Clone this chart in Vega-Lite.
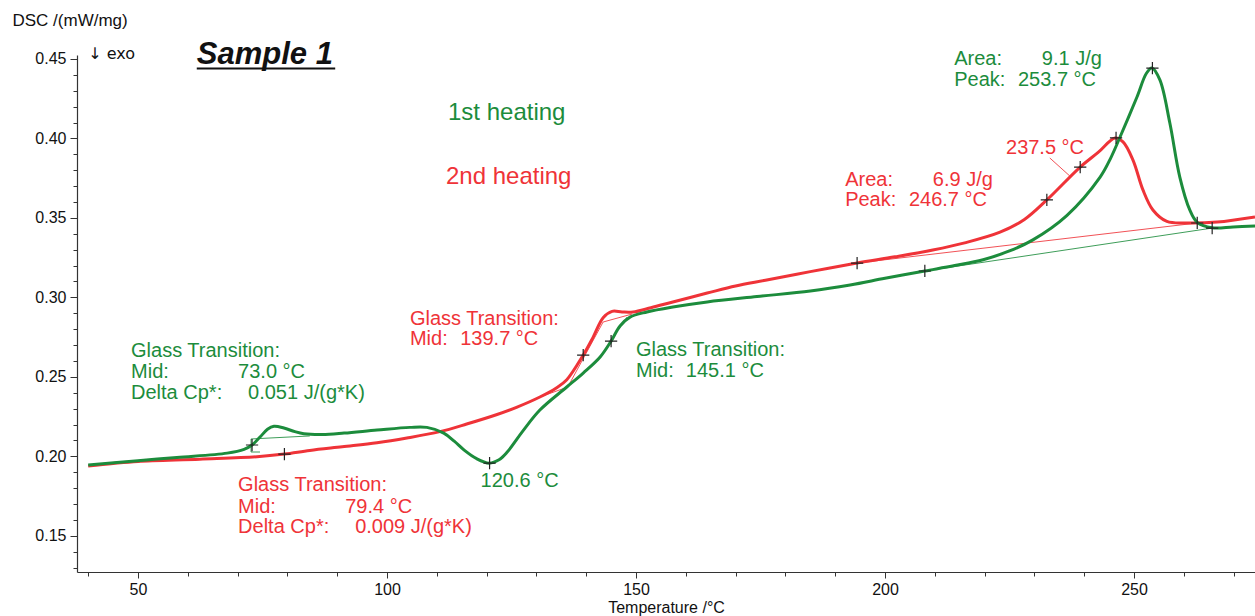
{
  "$schema": "https://vega.github.io/schema/vega-lite/v6.json",
  "autosize": {"type": "none"},
  "padding": {"left": 77, "top": 55, "right": 0, "bottom": 44},
  "width": 1178,
  "height": 517,
  "background": "white",
  "config": {"view": {"stroke": null}, "font": "Liberation Sans"},
  "datasets": {
    "curves": [
      {"series": "2nd heating", "T": 40, "v": 0.1939},
      {"series": "2nd heating", "T": 45, "v": 0.1955},
      {"series": "2nd heating", "T": 50, "v": 0.1968},
      {"series": "2nd heating", "T": 62.4, "v": 0.1982},
      {"series": "2nd heating", "T": 73.9, "v": 0.1997},
      {"series": "2nd heating", "T": 79.4, "v": 0.2014},
      {"series": "2nd heating", "T": 84.5, "v": 0.2037},
      {"series": "2nd heating", "T": 91, "v": 0.2060},
      {"series": "2nd heating", "T": 98, "v": 0.2085},
      {"series": "2nd heating", "T": 104, "v": 0.2115},
      {"series": "2nd heating", "T": 110.6, "v": 0.2155},
      {"series": "2nd heating", "T": 116, "v": 0.2203},
      {"series": "2nd heating", "T": 122.1, "v": 0.2263},
      {"series": "2nd heating", "T": 126, "v": 0.2308},
      {"series": "2nd heating", "T": 130.7, "v": 0.2373},
      {"series": "2nd heating", "T": 134, "v": 0.2430},
      {"series": "2nd heating", "T": 136.1, "v": 0.2482},
      {"series": "2nd heating", "T": 139.4, "v": 0.2637},
      {"series": "2nd heating", "T": 141.4, "v": 0.2750},
      {"series": "2nd heating", "T": 143.4, "v": 0.2872},
      {"series": "2nd heating", "T": 145.2, "v": 0.2912},
      {"series": "2nd heating", "T": 147.2, "v": 0.2908},
      {"series": "2nd heating", "T": 149.4, "v": 0.2908},
      {"series": "2nd heating", "T": 153, "v": 0.2935},
      {"series": "2nd heating", "T": 157.4, "v": 0.2971},
      {"series": "2nd heating", "T": 164.3, "v": 0.3027},
      {"series": "2nd heating", "T": 170, "v": 0.3072},
      {"series": "2nd heating", "T": 176, "v": 0.3108},
      {"series": "2nd heating", "T": 185, "v": 0.3162},
      {"series": "2nd heating", "T": 194.4, "v": 0.3216},
      {"series": "2nd heating", "T": 202, "v": 0.3255},
      {"series": "2nd heating", "T": 209.6, "v": 0.3298},
      {"series": "2nd heating", "T": 216, "v": 0.3343},
      {"series": "2nd heating", "T": 223.1, "v": 0.3410},
      {"series": "2nd heating", "T": 228, "v": 0.3490},
      {"series": "2nd heating", "T": 232.5, "v": 0.3613},
      {"series": "2nd heating", "T": 239.2, "v": 0.3820},
      {"series": "2nd heating", "T": 242.8, "v": 0.3912},
      {"series": "2nd heating", "T": 246.2, "v": 0.4003},
      {"series": "2nd heating", "T": 247.8, "v": 0.3978},
      {"series": "2nd heating", "T": 249.8, "v": 0.3864},
      {"series": "2nd heating", "T": 251.8, "v": 0.3676},
      {"series": "2nd heating", "T": 253.8, "v": 0.3550},
      {"series": "2nd heating", "T": 256.6, "v": 0.3478},
      {"series": "2nd heating", "T": 260.6, "v": 0.3468},
      {"series": "2nd heating", "T": 266.7, "v": 0.3474},
      {"series": "2nd heating", "T": 274.3, "v": 0.3506},
      {"series": "1st heating", "T": 40, "v": 0.1945},
      {"series": "1st heating", "T": 50, "v": 0.1972},
      {"series": "1st heating", "T": 57.8, "v": 0.1993},
      {"series": "1st heating", "T": 67.9, "v": 0.2020},
      {"series": "1st heating", "T": 71.3, "v": 0.2044},
      {"series": "1st heating", "T": 72.9, "v": 0.2071},
      {"series": "1st heating", "T": 74.5, "v": 0.2121},
      {"series": "1st heating", "T": 76, "v": 0.2170},
      {"series": "1st heating", "T": 77.3, "v": 0.2189},
      {"series": "1st heating", "T": 79.3, "v": 0.2178},
      {"series": "1st heating", "T": 81.5, "v": 0.2155},
      {"series": "1st heating", "T": 83.3, "v": 0.2142},
      {"series": "1st heating", "T": 87, "v": 0.2137},
      {"series": "1st heating", "T": 91.4, "v": 0.2146},
      {"series": "1st heating", "T": 98, "v": 0.2165},
      {"series": "1st heating", "T": 104.6, "v": 0.2182},
      {"series": "1st heating", "T": 108, "v": 0.2182},
      {"series": "1st heating", "T": 111.4, "v": 0.2146},
      {"series": "1st heating", "T": 113.5, "v": 0.2095},
      {"series": "1st heating", "T": 115.5, "v": 0.2039},
      {"series": "1st heating", "T": 118, "v": 0.1985},
      {"series": "1st heating", "T": 120.5, "v": 0.1957},
      {"series": "1st heating", "T": 122.5, "v": 0.1978},
      {"series": "1st heating", "T": 124.1, "v": 0.2025},
      {"series": "1st heating", "T": 127.3, "v": 0.2160},
      {"series": "1st heating", "T": 130.7, "v": 0.2291},
      {"series": "1st heating", "T": 136.1, "v": 0.2436},
      {"series": "1st heating", "T": 139.4, "v": 0.2524},
      {"series": "1st heating", "T": 142.8, "v": 0.2625},
      {"series": "1st heating", "T": 145, "v": 0.2725},
      {"series": "1st heating", "T": 146.8, "v": 0.2820},
      {"series": "1st heating", "T": 148.8, "v": 0.2876},
      {"series": "1st heating", "T": 152.2, "v": 0.2908},
      {"series": "1st heating", "T": 157.4, "v": 0.2939},
      {"series": "1st heating", "T": 164.3, "v": 0.2971},
      {"series": "1st heating", "T": 174.3, "v": 0.3005},
      {"series": "1st heating", "T": 185, "v": 0.3040},
      {"series": "1st heating", "T": 193, "v": 0.3078},
      {"series": "1st heating", "T": 200, "v": 0.3120},
      {"series": "1st heating", "T": 208, "v": 0.3166},
      {"series": "1st heating", "T": 214, "v": 0.3200},
      {"series": "1st heating", "T": 219.7, "v": 0.3237},
      {"series": "1st heating", "T": 225, "v": 0.3292},
      {"series": "1st heating", "T": 229.7, "v": 0.3362},
      {"series": "1st heating", "T": 236.5, "v": 0.3515},
      {"series": "1st heating", "T": 243.2, "v": 0.3757},
      {"series": "1st heating", "T": 245.3, "v": 0.3875},
      {"series": "1st heating", "T": 247.2, "v": 0.4009},
      {"series": "1st heating", "T": 250.6, "v": 0.4261},
      {"series": "1st heating", "T": 252.5, "v": 0.4410},
      {"series": "1st heating", "T": 253.6, "v": 0.4443},
      {"series": "1st heating", "T": 255.2, "v": 0.4368},
      {"series": "1st heating", "T": 257.2, "v": 0.4097},
      {"series": "1st heating", "T": 259.2, "v": 0.3757},
      {"series": "1st heating", "T": 261.2, "v": 0.3550},
      {"series": "1st heating", "T": 262.7, "v": 0.3472},
      {"series": "1st heating", "T": 265.7, "v": 0.3438},
      {"series": "1st heating", "T": 269.9, "v": 0.3443},
      {"series": "1st heating", "T": 274.3, "v": 0.3449}
    ],
    "base": [
      {"seg": "r1", "series": "2nd heating", "k": 1, "T": 194.4, "v": 0.3216},
      {"seg": "r1", "series": "2nd heating", "k": 2, "T": 262.7, "v": 0.3468},
      {"seg": "g1", "series": "1st heating", "k": 1, "T": 208.0, "v": 0.3166},
      {"seg": "g1", "series": "1st heating", "k": 2, "T": 265.7, "v": 0.3436},
      {"seg": "r2", "series": "2nd heating", "k": 1, "T": 130.7, "v": 0.2373},
      {"seg": "r2", "series": "2nd heating", "k": 2, "T": 136.3, "v": 0.2436},
      {"seg": "r2", "series": "2nd heating", "k": 3, "T": 143.4, "v": 0.2845},
      {"seg": "r2", "series": "2nd heating", "k": 4, "T": 149.2, "v": 0.2895},
      {"seg": "g2", "series": "1st heating", "k": 1, "T": 146.4, "v": 0.2795},
      {"seg": "g2", "series": "1st heating", "k": 2, "T": 148.2, "v": 0.2876},
      {"seg": "g3", "series": "1st heating", "k": 1, "T": 74.5, "v": 0.2027},
      {"seg": "g3", "series": "1st heating", "k": 2, "T": 72.7, "v": 0.2027},
      {"seg": "g3", "series": "1st heating", "k": 3, "T": 72.7, "v": 0.2109},
      {"seg": "g3", "series": "1st heating", "k": 4, "T": 84.5, "v": 0.2128},
      {"seg": "r3", "series": "2nd heating", "k": 1, "T": 233.1, "v": 0.3877},
      {"seg": "r3", "series": "2nd heating", "k": 2, "T": 237.1, "v": 0.3764}
    ],
    "crosses": [
      {"series": "2nd heating", "T": 79.4, "v": 0.2014},
      {"series": "2nd heating", "T": 139.4, "v": 0.2637},
      {"series": "2nd heating", "T": 194.4, "v": 0.3216},
      {"series": "2nd heating", "T": 232.5, "v": 0.3613},
      {"series": "2nd heating", "T": 239.2, "v": 0.3820},
      {"series": "2nd heating", "T": 246.4, "v": 0.4003},
      {"series": "2nd heating", "T": 262.7, "v": 0.3468},
      {"series": "1st heating", "T": 72.9, "v": 0.2071},
      {"series": "1st heating", "T": 120.6, "v": 0.1957},
      {"series": "1st heating", "T": 145.0, "v": 0.2725},
      {"series": "1st heating", "T": 208.0, "v": 0.3166},
      {"series": "1st heating", "T": 253.7, "v": 0.4443},
      {"series": "1st heating", "T": 265.7, "v": 0.3436}
    ],
    "notes": [
      {"series": "1st heating", "T": 48.6, "v": 0.2662, "text": "Glass Transition:"},
      {"series": "1st heating", "T": 48.6, "v": 0.2530, "text": "Mid:"},
      {"series": "1st heating", "T": 70.1, "v": 0.2530, "text": "73.0 °C"},
      {"series": "1st heating", "T": 48.6, "v": 0.2398, "text": "Delta Cp*:"},
      {"series": "1st heating", "T": 72.1, "v": 0.2398, "text": "0.051 J/(g*K)"},
      {"series": "1st heating", "T": 118.8, "v": 0.1844, "text": "120.6 °C"},
      {"series": "1st heating", "T": 150.0, "v": 0.2669, "text": "Glass Transition:"},
      {"series": "1st heating", "T": 150.0, "v": 0.2537, "text": "Mid:"},
      {"series": "1st heating", "T": 160.0, "v": 0.2537, "text": "145.1 °C"},
      {"series": "1st heating", "T": 213.9, "v": 0.4500, "text": "Area:"},
      {"series": "1st heating", "T": 231.5, "v": 0.4500, "text": "9.1 J/g"},
      {"series": "1st heating", "T": 213.9, "v": 0.4368, "text": "Peak:"},
      {"series": "1st heating", "T": 226.7, "v": 0.4368, "text": "253.7 °C"},
      {"series": "2nd heating", "T": 70.1, "v": 0.1819, "text": "Glass Transition:"},
      {"series": "2nd heating", "T": 70.1, "v": 0.1680, "text": "Mid:"},
      {"series": "2nd heating", "T": 91.6, "v": 0.1680, "text": "79.4 °C"},
      {"series": "2nd heating", "T": 70.1, "v": 0.1555, "text": "Delta Cp*:"},
      {"series": "2nd heating", "T": 93.6, "v": 0.1555, "text": "0.009 J/(g*K)"},
      {"series": "2nd heating", "T": 104.6, "v": 0.2864, "text": "Glass Transition:"},
      {"series": "2nd heating", "T": 104.6, "v": 0.2738, "text": "Mid:"},
      {"series": "2nd heating", "T": 114.7, "v": 0.2738, "text": "139.7 °C"},
      {"series": "2nd heating", "T": 192.0, "v": 0.3739, "text": "Area:"},
      {"series": "2nd heating", "T": 209.6, "v": 0.3739, "text": "6.9 J/g"},
      {"series": "2nd heating", "T": 192.0, "v": 0.3613, "text": "Peak:"},
      {"series": "2nd heating", "T": 204.8, "v": 0.3613, "text": "246.7 °C"},
      {"series": "2nd heating", "T": 224.3, "v": 0.3940, "text": "237.5 °C"}
    ],
    "legendText": [
      {"series": "1st heating", "T": 112.25, "v": 0.4160, "text": "1st heating"},
      {"series": "2nd heating", "T": 111.85, "v": 0.3757, "text": "2nd heating"}
    ],
    "misc": [
      {"T": 40.0, "v": 0.4531, "text": "↓ exo"}
    ],
    "title": [
      {"T": 61.8, "T2": 89.6, "v": 0.4527, "vu": 0.4440, "text": "Sample 1"}
    ]
  },
  "encoding": {
    "x": {
      "field": "T", "type": "quantitative",
      "scale": {"domain": [37.75, 274.3], "nice": false, "zero": false},
      "axis": {
        "title": "Temperature /°C",
        "values": [40, 50, 60, 70, 80, 90, 100, 110, 120, 130, 140, 150, 160, 170, 180, 190, 200, 210, 220, 230, 240, 250, 260, 270],
        "labelExpr": "datum.value % 50 === 0 ? datum.label : ''",
        "grid": false,
        "domainColor": "#333333",
        "domainWidth": 1.2,
        "tickColor": "#333333",
        "tickSize": {"condition": {"test": "datum.value % 50 === 0", "value": 6}, "value": 4},
        "labelFont": "Liberation Sans",
        "labelFontSize": 16,
        "labelColor": "#111111",
        "labelPadding": 3,
        "titleFont": "Liberation Sans",
        "titleFontSize": 16,
        "titleFontWeight": "normal",
        "titleColor": "#111111",
        "titlePadding": 2
      }
    },
    "y": {
      "field": "v", "type": "quantitative",
      "scale": {"domain": [0.1272, 0.4525], "nice": false, "zero": false},
      "axis": {
        "title": "DSC /(mW/mg)",
        "values": [0.13, 0.14, 0.15, 0.16, 0.17, 0.18, 0.19, 0.2, 0.21, 0.22, 0.23, 0.24, 0.25, 0.26, 0.27, 0.28, 0.29, 0.3, 0.31, 0.32, 0.33, 0.34, 0.35, 0.36, 0.37, 0.38, 0.39, 0.4, 0.41, 0.42, 0.43, 0.44, 0.45],
        "labelExpr": "abs(datum.value*20 - round(datum.value*20)) < 0.001 ? format(datum.value, '.2f') : ''",
        "grid": false,
        "domainColor": "#333333",
        "domainWidth": 1.2,
        "tickColor": "#333333",
        "tickSize": {"condition": {"test": "abs(datum.value*20 - round(datum.value*20)) < 0.001", "value": 7}, "value": 4},
        "labelFont": "Liberation Sans",
        "labelFontSize": 16,
        "labelColor": "#111111",
        "labelPadding": 4,
        "titleFont": "Liberation Sans",
        "titleFontSize": 17,
        "titleFontWeight": "normal",
        "titleColor": "#111111",
        "titleAngle": 0,
        "titleAlign": "left",
        "titleBaseline": "middle",
        "titleX": -65,
        "titleY": -35
      }
    }
  },
  "layer": [
    {
      "data": {"name": "base"},
      "mark": {"type": "line", "strokeWidth": 1, "opacity": 0.85},
      "encoding": {
        "detail": {"field": "seg"},
        "order": {"field": "k", "type": "quantitative"},
        "color": {"field": "series", "type": "nominal", "legend": null,
          "scale": {"domain": ["1st heating", "2nd heating"], "range": ["#1c8c3c", "#ef3338"]}}
      }
    },
    {
      "data": {"name": "curves"},
      "mark": {"type": "line", "strokeWidth": 3, "interpolate": "catmull-rom"},
      "encoding": {
        "color": {"field": "series", "type": "nominal", "legend": null,
          "scale": {"domain": ["1st heating", "2nd heating"], "range": ["#1c8c3c", "#ef3338"]}}
      }
    },
    {
      "data": {"name": "crosses"},
      "mark": {"type": "point", "shape": "M-1,0H1M0,-1V1", "size": 150, "filled": false, "strokeWidth": 1.2, "color": "#222222", "opacity": 1}
    },
    {
      "data": {"name": "notes"},
      "mark": {"type": "text", "align": "left", "baseline": "middle", "font": "Liberation Sans", "fontSize": 20},
      "encoding": {
        "text": {"field": "text"},
        "color": {"field": "series", "type": "nominal", "legend": null,
          "scale": {"domain": ["1st heating", "2nd heating"], "range": ["#23944a", "#ef3338"]}}
      }
    },
    {
      "data": {"name": "legendText"},
      "mark": {"type": "text", "align": "left", "baseline": "middle", "font": "Liberation Sans", "fontSize": 24},
      "encoding": {
        "text": {"field": "text"},
        "color": {"field": "series", "type": "nominal", "legend": null,
          "scale": {"domain": ["1st heating", "2nd heating"], "range": ["#23944a", "#ef3338"]}}
      }
    },
    {
      "data": {"name": "misc"},
      "mark": {"type": "text", "align": "left", "baseline": "middle", "font": "DejaVu Sans", "fontSize": 16, "color": "#111111"},
      "encoding": {"text": {"field": "text"}}
    },
    {
      "data": {"name": "title"},
      "mark": {"type": "text", "align": "left", "baseline": "middle", "font": "Liberation Sans", "fontSize": 31, "fontWeight": "bold", "fontStyle": "italic", "color": "#111111"},
      "encoding": {"text": {"field": "text"}}
    },
    {
      "data": {"name": "title"},
      "mark": {"type": "rule", "strokeWidth": 2.2, "color": "#111111"},
      "encoding": {
        "x2": {"field": "T2"},
        "y": {"field": "vu", "type": "quantitative"}
      }
    }
  ]
}
